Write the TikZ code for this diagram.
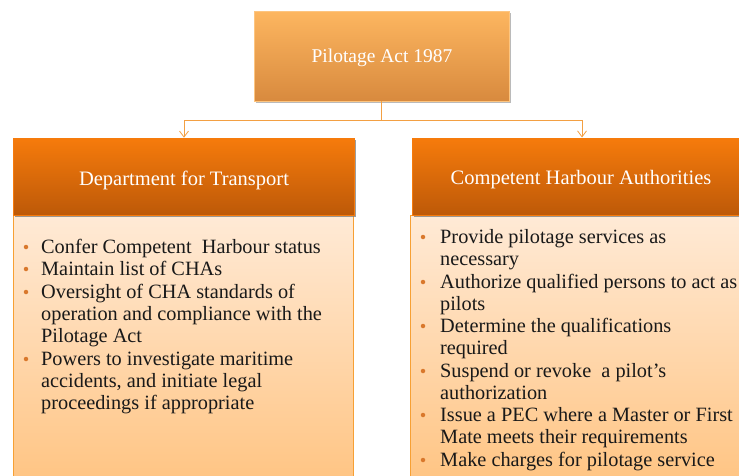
\documentclass[tikz,border=0pt]{standalone}
\usepackage{fontspec}
\setmainfont{Liberation Serif}
\usetikzlibrary{arrows.meta,shadows}
\definecolor{topA}{HTML}{FDB660}
\definecolor{topB}{HTML}{D88A3E}
\definecolor{hdA}{HTML}{F67B0C}
\definecolor{hdB}{HTML}{BD5908}
\definecolor{bdA}{HTML}{FFEAD6}
\definecolor{bdB}{HTML}{FFC482}
\definecolor{edge}{HTML}{F7A034}
\definecolor{conn}{HTML}{F3A043}
\definecolor{bul}{HTML}{D9782C}
\tikzset{
  topbox/.style={rectangle, inner sep=0pt, top color=topA, bottom color=topB, draw=topA!80!white, line width=0.6pt,
     drop shadow={shadow xshift=1.5pt, shadow yshift=-1.5pt, fill=black!45, opacity=0.6}},
  hdbox/.style={rectangle, inner sep=0pt, top color=hdA, bottom color=hdB, draw=hdA, line width=0.6pt,
     drop shadow={shadow xshift=1.5pt, shadow yshift=-1.5pt, fill=black!55, opacity=0.7}},
  boxtxt/.style={text=white, inner sep=0pt, font=\fontsize{20.5}{22}\selectfont},
  bodybox/.style={rectangle, inner sep=0pt, top color=bdA, bottom color=bdB, draw=edge, line width=0.8pt},
  conn/.style={draw=conn, line width=0.9pt},
  arr/.style={conn, -{Straight Barb[length=6pt,width=9pt,line width=0.8pt]}},
  itemtxt/.style={anchor=base west, inner sep=0pt, font=\fontsize{20.3}{22.3}\selectfont, text=black!90},
  bulnode/.style={circle, fill=bul, inner sep=0pt, minimum size=4.5pt},
}
\begin{document}
\begin{tikzpicture}[x=1pt,y=-1pt]
\useasboundingbox (0,0) rectangle (739,475);
\clip (0,0) rectangle (739,475);
% top box
\node[topbox, minimum width=255pt, minimum height=90pt] (top) at (381.5,56) {};
\node[boxtxt, font=\fontsize{19.5}{22}\selectfont] (topt) at (382,58) {Pilotage Act 1987};
% body boxes
\node[bodybox, minimum width=340pt, minimum height=270pt, anchor=north west] (lbody) at (13,215) {};
\node[bodybox, minimum width=340pt, minimum height=270pt, anchor=north west] (rbody) at (410,215) {};
% header boxes
\node[hdbox, minimum width=341pt, minimum height=77pt] (lhd) at (184,176.5) {};
\node[hdbox, minimum width=341pt, minimum height=77pt, anchor=north west] (rhd) at (412,138) {};
\node[boxtxt] (lhdt) at (184,180) {Department for Transport};
\node[boxtxt] (rhdt) at (581,180) {Competent Harbour Authorities};
% connectors
\coordinate (j) at (381.5,120);
\coordinate (jl) at (184,120);
\coordinate (jr) at (582,120);
\draw[conn] (top.south) -- (j);
\draw[conn] (jl) -- (jr);
\draw[arr] (jl) -- (lhd.north);
\draw[arr] (jr) -- (582,137.5);
% left list
\foreach \t/\y [count=\i] in {
  {Confer Competent\ \ Harbour status}/253,
  {Maintain list of CHAs}/275,
  {Oversight of CHA standards of}/298,
  {operation and compliance with the}/320,
  {Pilotage Act}/342,
  {Powers to investigate maritime}/365,
  {accidents, and initiate legal}/387,
  {proceedings if appropriate}/409}
  \node[itemtxt] (l\i) at (41,\y) {\t};
\foreach \i/\y in {1/247,2/269,3/292,6/359}
  \node[bulnode] (lb\i) at (26,\y) {};
% right list
\foreach \t/\y [count=\i] in {
  {Provide pilotage services as}/243,
  {necessary}/265,
  {Authorize qualified persons to act as}/288,
  {pilots}/310,
  {Determine the qualifications}/332,
  {required}/354,
  {Suspend or revoke\ \ a pilot’s}/377,
  {authorization}/399,
  {Issue a PEC where a Master or First}/421,
  {Mate meets their requirements}/443,
  {Make charges for pilotage service}/466}
  \node[itemtxt] (r\i) at (440,\y) {\t};
\foreach \i/\y in {1/237,3/282,5/326,7/371,9/415,11/460}
  \node[bulnode] (rb\i) at (423,\y) {};
\end{tikzpicture}
\end{document}
